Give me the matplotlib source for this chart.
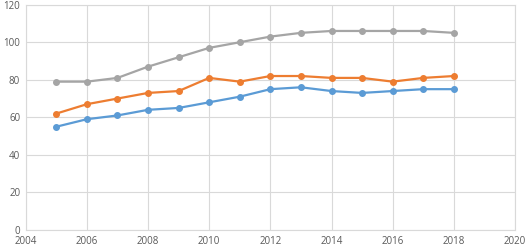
import matplotlib
matplotlib.use("Agg")
import matplotlib.pyplot as plt

# data
years = [2005, 2006, 2007, 2008, 2009, 2010, 2011, 2012, 2013, 2014, 2015, 2016, 2017, 2018]
blue = [55, 59, 61, 64, 65, 68, 71, 75, 76, 74, 73, 74, 75, 75]
orange = [62, 67, 70, 73, 74, 81, 79, 82, 82, 81, 81, 79, 81, 82]
gray = [79, 79, 81, 87, 92, 97, 100, 103, 105, 106, 106, 106, 106, 105]

xticks = [2004, 2006, 2008, 2010, 2012, 2014, 2016, 2018, 2020]
yticks = [0, 20, 40, 60, 80, 100, 120]

plt.rcParams['font.family'] = ['Open Sans', 'DejaVu Sans']

fig = plt.figure(figsize=(5.26, 2.47), dpi=100)
ax = fig.add_axes([0.049, 0.069, 0.93, 0.912])

ax.plot(years, blue, color='#5B9BD5', marker='o', markersize=4, linewidth=1.6)
ax.plot(years, orange, color='#ED7D31', marker='o', markersize=4, linewidth=1.6)
ax.plot(years, gray, color='#A5A5A5', marker='o', markersize=4, linewidth=1.6)

ax.set_xlim(2004, 2020)
ax.set_ylim(0, 120)
ax.set_xticks(xticks)
ax.set_yticks(yticks)
ax.grid(True, color='#D9D9D9', linewidth=0.8)
ax.set_axisbelow(True)
for s in ax.spines.values():
    s.set_color('#D9D9D9')
    s.set_linewidth(0.8)
ax.tick_params(length=0, labelsize=7, colors='#595959', pad=4)

fig.savefig('out.png', dpi=100)
